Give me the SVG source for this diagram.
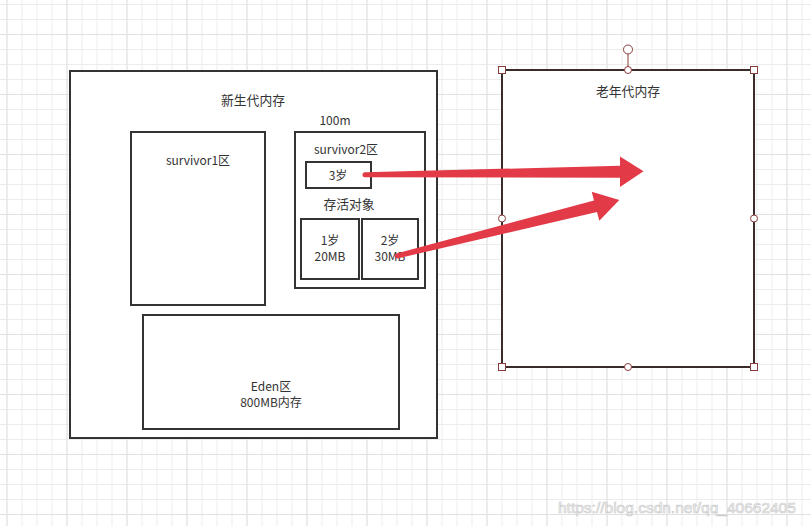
<svg xmlns="http://www.w3.org/2000/svg" width="811" height="526" viewBox="0 0 811 526">
<defs>
<pattern id="minor" x="6.5" y="4" width="15" height="15" patternUnits="userSpaceOnUse">
<path d="M0.5 0V15M0 0.5H15" stroke="#ececec" stroke-width="1" fill="none"/>
</pattern>
<pattern id="major" x="6.5" y="34" width="60" height="60" patternUnits="userSpaceOnUse">
<path d="M0.5 0V60M0 0.5H60" stroke="#e2e2e2" stroke-width="1" fill="none"/>
</pattern>
</defs>
<style>
.box{fill:#fff;stroke:#333;stroke-width:2}
.t{font-family:"Noto Sans CJK SC","Liberation Sans",sans-serif;font-size:12px;fill:#333;text-anchor:middle}
.cjk{font-size:12.8px}
.arrow{fill:#e23a47;stroke:none}
.h{fill:#fff;stroke:#8a3c3c;stroke-width:1}
</style>
<rect width="811" height="526" fill="#fff"/>
<rect width="811" height="526" fill="url(#minor)"/>
<rect width="811" height="526" fill="url(#major)"/>

<g id="young-gen">
<rect class="box" x="70" y="71" width="367" height="367"/>
<text class="t cjk" x="253" y="104.5">新生代内存</text>
</g>
<g id="survivor1">
<rect class="box" x="131" y="132" width="134" height="173"/>
<text class="t" x="198" y="165">survivor1区</text>
</g>
<g id="survivor2">
<text class="t" x="335" y="125">100m</text>
<rect class="box" x="295" y="132" width="130" height="156"/>
<text class="t" x="346" y="154">survivor2区</text>
<text class="t cjk" x="349" y="208.5">存活对象</text>
</g>
<g id="age3">
<rect class="box" x="306" y="162" width="65" height="26"/>
<text class="t" x="338" y="180">3岁</text>
</g>
<g id="age1">
<rect class="box" x="301" y="219" width="58" height="60"/>
<text class="t" x="330" y="245">1岁</text>
<text class="t" x="330" y="261">20MB</text>
</g>
<g id="age2">
<rect class="box" x="362" y="219" width="56" height="60"/>
<text class="t" x="390" y="245">2岁</text>
<text class="t" x="390" y="261">30MB</text>
</g>
<g id="eden">
<rect class="box" x="143" y="315" width="256" height="114"/>
<text class="t" x="271" y="391">Eden区</text>
<text class="t" x="271" y="407">800MB内存</text>
</g>
<g id="old-gen">
<rect x="502" y="70" width="252" height="297" fill="#fff" stroke="#3b2b2b" stroke-width="2"/>
<text class="t cjk" x="628" y="95.5">老年代内存</text>
</g>

<g id="connectors">
<path class="arrow" d="M365 172.3 L620 165.8 L620 156.5 L643.5 171.3 L620 187 L620 177.8 L365 177.3 A2.5 2.5 0 0 1 365 172.3 Z"/>
<path class="arrow" d="M396.4 253.6 L594 200.4 L591.7 191.7 L619.3 200 L599.3 220.7 L597 212 L397.6 258.4 A2.5 2.5 0 0 1 396.4 253.6 Z"/>
</g>

<g id="selection-handles">
<line x1="628" y1="54" x2="628" y2="70" stroke="#8a3c3c" stroke-width="1"/>
<circle class="h" cx="628" cy="49.5" r="4.5"/>
<rect class="h" x="498.5" y="66.5" width="7" height="7"/>
<rect class="h" x="750.5" y="66.5" width="7" height="7"/>
<rect class="h" x="498.5" y="363.5" width="7" height="7"/>
<rect class="h" x="750.5" y="363.5" width="7" height="7"/>
<circle class="h" cx="628" cy="70" r="3.5"/>
<circle class="h" cx="502" cy="218.5" r="3.5"/>
<circle class="h" cx="754" cy="218.5" r="3.5"/>
<circle class="h" cx="628" cy="367" r="3.5"/>
</g>

<text x="558" y="513" font-family="'Liberation Sans',Arial,sans-serif" font-size="15.5" fill="#fafafa" stroke="#cccccc" stroke-width="0.7">https://blog.csdn.net/qq_40662405</text>
</svg>
